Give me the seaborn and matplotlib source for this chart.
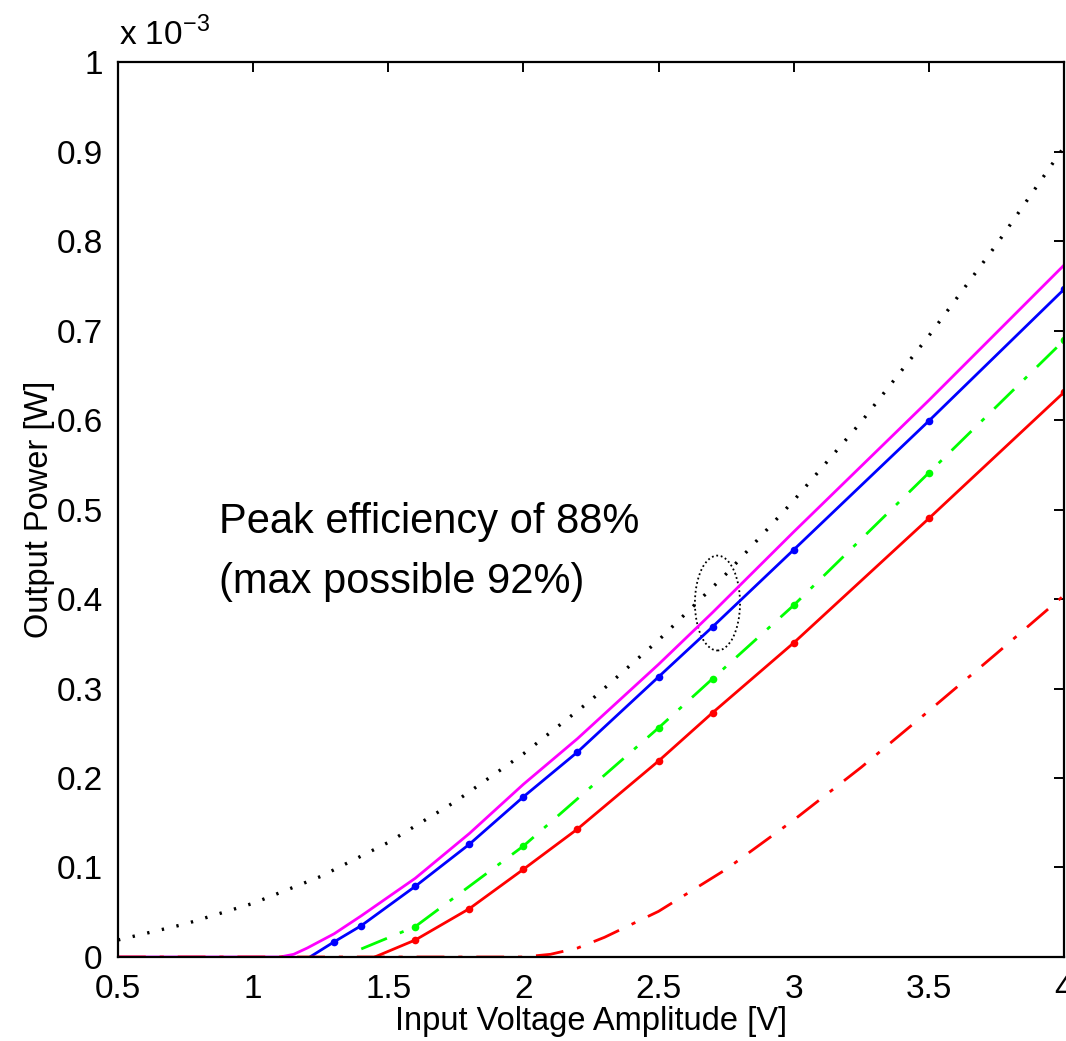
import seaborn as sns
import matplotlib.pyplot as plt
from matplotlib.patches import Ellipse

# values (power in units of 1e-3 W)
v_bound = [0.5, 0.75, 1.0, 1.25, 1.5, 1.75, 2.0, 2.25, 2.5, 2.75, 3.0, 3.25, 3.5, 3.75, 4.0]
p_bound = [0.019, 0.037, 0.060, 0.090, 0.128, 0.174, 0.227, 0.287, 0.354, 0.428, 0.510, 0.598, 0.694, 0.796, 0.905]

v_magenta = [0.5, 1.1, 1.15, 1.2, 1.3, 1.4, 1.6, 1.8, 2.0, 2.2, 2.5, 2.7, 3.0, 3.5, 4.0]
p_magenta = [0.0, 0.0, 0.003, 0.010, 0.026, 0.046, 0.088, 0.138, 0.193, 0.244, 0.327, 0.385, 0.475, 0.622, 0.773]

v_blue = [1.21, 1.3, 1.4, 1.6, 1.8, 2.0, 2.2, 2.5, 2.7, 3.0, 3.5, 4.0]
p_blue = [0.0, 0.017, 0.035, 0.079, 0.126, 0.179, 0.229, 0.313, 0.369, 0.455, 0.599, 0.746]

v_green = [1.4, 1.6, 2.0, 2.5, 2.7, 3.0, 3.5, 4.0]
p_green = [0.009, 0.034, 0.124, 0.256, 0.311, 0.393, 0.541, 0.689]

v_red = [1.45, 1.6, 1.8, 2.0, 2.2, 2.5, 2.7, 3.0, 3.5, 4.0]
p_red = [0.0, 0.019, 0.054, 0.098, 0.143, 0.219, 0.273, 0.351, 0.490, 0.631]

v_red_dd = [0.5, 2.0, 2.1, 2.2, 2.3, 2.5, 2.75, 3.0, 3.25, 3.5, 3.75, 4.0]
p_red_dd = [0.0, 0.0, 0.003, 0.010, 0.022, 0.051, 0.098, 0.153, 0.212, 0.275, 0.339, 0.404]

x_ticks = [0.5, 1, 1.5, 2, 2.5, 3, 3.5, 4]
x_tick_labels = ['0.5', '1', '1.5', '2', '2.5', '3', '3.5', '4']
y_ticks = [0, 0.1, 0.2, 0.3, 0.4, 0.5, 0.6, 0.7, 0.8, 0.9, 1.0]
y_tick_labels = ['0', '0.1', '0.2', '0.3', '0.4', '0.5', '0.6', '0.7', '0.8', '0.9', '1']

sns.set_style('white')
plt.rcParams['font.family'] = ['Liberation Sans', 'DejaVu Sans']
plt.rcParams['mathtext.fontset'] = 'custom'
plt.rcParams['mathtext.rm'] = 'Liberation Sans'
plt.rcParams['text.color'] = 'black'
plt.rcParams['axes.labelcolor'] = 'black'

fig = plt.figure(figsize=(10.66, 10.41), dpi=100)
ax = fig.add_axes([0.1107, 0.0807, 0.8874, 0.8597])

dashdot = (0, (10, 5, 1.5, 5))
lw = 2.0
ms = 5.5

sns.lineplot(x=v_bound, y=p_bound, ax=ax, color='black', linestyle=(0, (0.7, 3.8)), linewidth=2.4)
sns.lineplot(x=v_magenta, y=p_magenta, ax=ax, color='#ff00ff', linewidth=lw)
sns.lineplot(x=v_blue, y=p_blue, ax=ax, color='#0000ff', linewidth=lw,
             marker='o', markersize=ms, markeredgewidth=0, markevery=list(range(1, len(v_blue))))
sns.lineplot(x=v_green, y=p_green, ax=ax, color='#00ff00', linewidth=lw, linestyle=dashdot,
             marker='o', markersize=ms, markeredgewidth=0, markevery=list(range(1, len(v_green))))
sns.lineplot(x=v_red, y=p_red, ax=ax, color='#ff0000', linewidth=lw,
             marker='o', markersize=ms, markeredgewidth=0, markevery=list(range(1, len(v_red))))
sns.lineplot(x=v_red_dd, y=p_red_dd, ax=ax, color='#ff0000', linewidth=lw, linestyle=dashdot)

ax.add_patch(Ellipse((2.718, 0.3955), 0.167, 0.106, fill=False, edgecolor='black',
                     linestyle=(0, (1, 1.5)), linewidth=1.3))
ax.text(0.875, 0.474, 'Peak efficiency of 88%', fontsize=30, va='baseline', ha='left')
ax.text(0.875, 0.407, '(max possible 92%)', fontsize=30, va='baseline', ha='left')

ax.set_xlim(0.5, 4)
ax.set_ylim(0, 1)
ax.set_xticks(x_ticks)
ax.set_xticklabels(x_tick_labels)
ax.set_yticks(y_ticks)
ax.set_yticklabels(y_tick_labels)
ax.tick_params(direction='in', length=7.5, width=1.4, labelsize=24, top=True, right=True,
               colors='black')
ax.tick_params(axis='x', pad=12)
ax.tick_params(axis='y', pad=11)
for s in ax.spines.values():
    s.set_visible(True)
    s.set_linewidth(1.6)
    s.set_color('black')

ax.set_xlabel('Input Voltage Amplitude [V]', fontsize=23.5, labelpad=1)
ax.set_ylabel('Output Power [W]', fontsize=23.5, labelpad=1)
ax.annotate(r'x 10$^{-3}$', xy=(0, 1), xycoords='axes fraction', xytext=(1, 12),
            textcoords='offset points', fontsize=24, va='baseline', ha='left')

fig.savefig('out.png', dpi=100)
